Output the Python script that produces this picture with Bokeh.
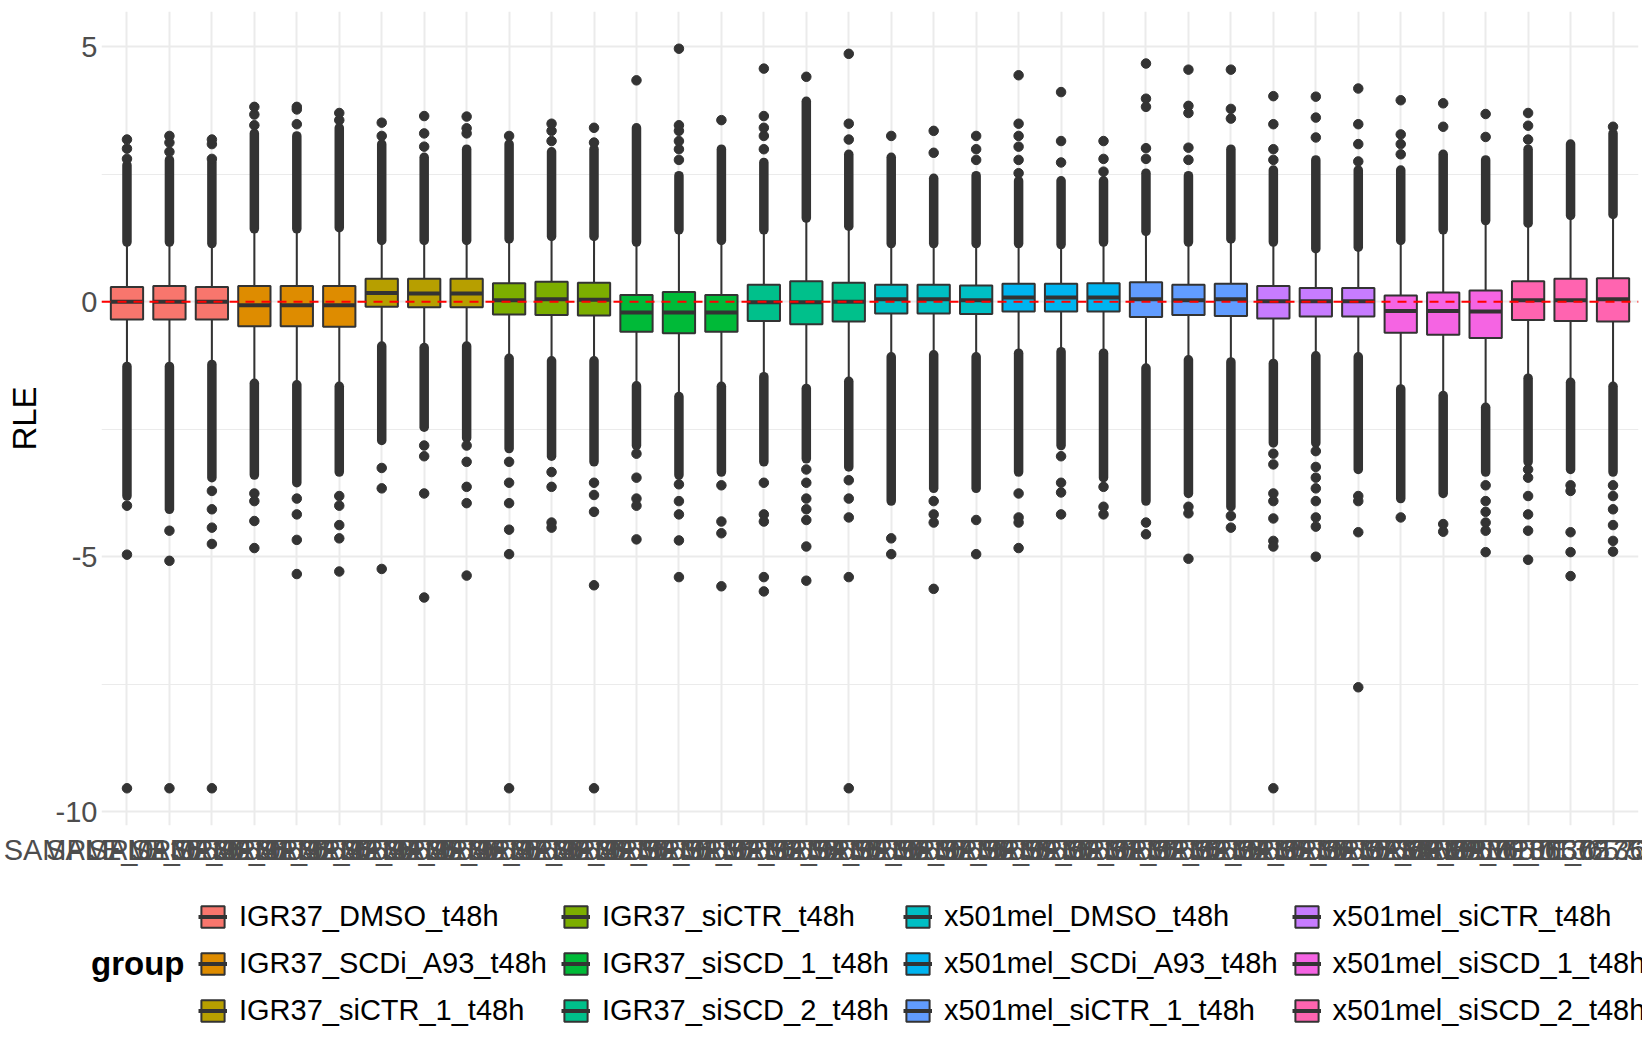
from bokeh.embed import file_html
from bokeh.models import (ColumnDataSource, FixedTicker, Label, Legend,
                          LegendItem, Range1d, Span)
from bokeh.plotting import figure
from bokeh.resources import INLINE
from bokeh.transform import dodge

FONT = "Liberation Sans"

# groups (legend order) and their ggplot hue colours
groups = [
    "IGR37_DMSO_t48h", "IGR37_SCDi_A93_t48h", "IGR37_siCTR_1_t48h",
    "IGR37_siCTR_t48h", "IGR37_siSCD_1_t48h", "IGR37_siSCD_2_t48h",
    "x501mel_DMSO_t48h", "x501mel_SCDi_A93_t48h", "x501mel_siCTR_1_t48h",
    "x501mel_siCTR_t48h", "x501mel_siSCD_1_t48h", "x501mel_siSCD_2_t48h",
]
group_colors = [
    "#F8766D", "#DE8C00", "#B79F00", "#7CAE00", "#00BA38", "#00C08B",
    "#00BFC4", "#00B4F0", "#619CFF", "#C77CFF", "#F564E3", "#FF64B0",
]

# sample names on the x axis (they overlap in the original)
samples = [
    "SAMPLE_0136540", "SAMPLE_0136541", "SAMPLE_0136542", "SAMPLE_0136543",
    "SAMPLE_0136544", "SAMPLE_0136545", "SAMPLE_0136546", "SAMPLE_0136547",
    "SAMPLE_0136548", "SAMPLE_0136549", "SAMPLE_0136550", "SAMPLE_0136551",
    "SAMPLE_0136552", "SAMPLE_0136553", "SAMPLE_0136554", "SAMPLE_0136555",
    "SAMPLE_0136556", "SAMPLE_0136557", "SAMPLE_0136558", "SAMPLE_0136559",
    "SAMPLE_0136560", "SAMPLE_0136561", "SAMPLE_0136562", "SAMPLE_0136563",
    "SAMPLE_0136564", "SAMPLE_0136565", "SAMPLE_0136566", "SAMPLE_0136567",
    "SAMPLE_0136568", "SAMPLE_0136569", "SAMPLE_0136570", "SAMPLE_0136571",
    "SAMPLE_0136572", "SAMPLE_0136573", "SAMPLE_0136574", "SAMPLE_0136575",
]
sample_group = [0, 0, 0, 1, 1, 1, 2, 2, 2, 3, 3, 3,
                4, 4, 4, 5, 5, 5, 6, 6, 6, 7, 7, 7,
                8, 8, 8, 9, 9, 9, 10, 10, 10, 11, 11, 11]

# box statistics per sample
q3 = [0.29, 0.31, 0.29, 0.31, 0.31, 0.31, 0.45, 0.45, 0.45, 0.36, 0.39, 0.37,
      0.13, 0.19, 0.13, 0.33, 0.40, 0.37, 0.33, 0.33, 0.32, 0.35, 0.35, 0.36,
      0.38, 0.33, 0.35, 0.31, 0.27, 0.27, 0.12, 0.18, 0.22, 0.40, 0.45, 0.46]
median = [0.0, 0.0, 0.0, -0.07, -0.07, -0.07, 0.17, 0.16, 0.16, 0.03, 0.05, 0.04,
          -0.21, -0.21, -0.21, -0.01, -0.01, 0.0, 0.05, 0.05, 0.03, 0.08, 0.08, 0.08,
          0.05, 0.03, 0.05, 0.01, 0.01, 0.01, -0.18, -0.18, -0.19, 0.03, 0.03, 0.05]
q1 = [-0.35, -0.35, -0.35, -0.48, -0.48, -0.49, -0.10, -0.11, -0.11, -0.25, -0.26, -0.27,
      -0.59, -0.62, -0.59, -0.38, -0.44, -0.39, -0.23, -0.23, -0.24, -0.19, -0.19, -0.19,
      -0.30, -0.26, -0.28, -0.33, -0.29, -0.29, -0.61, -0.65, -0.71, -0.36, -0.38, -0.39]
whisker_hi = [1.17, 1.17, 1.14, 1.43, 1.43, 1.45, 1.20, 1.20, 1.20, 1.23, 1.28, 1.28,
              1.17, 1.41, 1.20, 1.41, 1.64, 1.48, 1.14, 1.14, 1.14, 1.14, 1.12, 1.17,
              1.38, 1.17, 1.23, 1.17, 1.04, 1.07, 1.20, 1.41, 1.59, 1.54, 1.69, 1.71]
whisker_lo = [-1.27, -1.27, -1.23, -1.60, -1.63, -1.66, -0.87, -0.90, -0.87, -1.11, -1.16, -1.16,
              -1.65, -1.86, -1.66, -1.47, -1.70, -1.56, -1.08, -1.04, -1.08, -1.01, -0.98, -1.01,
              -1.30, -1.14, -1.18, -1.21, -1.06, -1.08, -1.71, -1.84, -2.07, -1.50, -1.58, -1.66]

# outliers are so dense right after the whiskers that they form a solid strip:
# strip runs from the whisker end to these values
dense_top = [2.68, 2.78, 2.73, 3.30, 3.25, 3.41, 3.09, 2.83, 2.99, 3.09, 2.94, 2.99,
             3.41, 2.47, 2.99, 2.73, 3.93, 2.89, 2.83, 2.42, 2.47, 2.37, 2.37, 2.37,
             2.52, 2.47, 2.99, 2.58, 2.78, 2.58, 2.58, 2.89, 2.78, 2.99, 3.09, 3.30]
dense_bottom = [-3.81, -4.07, -3.45, -3.40, -3.55, -3.34, -2.72, -2.46, -2.67, -2.88, -3.03, -3.14,
                -2.82, -3.40, -3.34, -3.14, -3.08, -3.24, -3.91, -3.66, -3.66, -3.34, -2.82, -3.45,
                -3.91, -3.76, -4.02, -2.77, -2.77, -3.29, -3.86, -3.76, -3.34, -3.14, -3.29, -3.34]

# the remaining single outliers
outliers = [
    [2.8, 3.0, 3.18, -4.0, -4.96, -9.54],
    [2.94, 3.12, 3.25, -4.49, -5.08, -9.54],
    [2.8, 3.09, 3.18, -3.71, -4.07, -4.43, -4.75, -9.54],
    [3.46, 3.67, 3.82, -3.76, -3.91, -4.3, -4.83],
    [3.48, 3.77, 3.82, -3.86, -4.17, -4.67, -5.34],
    [3.56, 3.7, -3.81, -4.0, -4.38, -4.64, -5.29],
    [3.25, 3.51, -3.26, -3.66, -5.24],
    [3.04, 3.3, 3.64, -2.82, -3.03, -3.76, -5.8],
    [3.3, 3.4, 3.63, -2.82, -3.14, -3.63, -3.95, -5.37],
    [3.25, -3.14, -3.55, -3.95, -4.47, -4.95, -9.54],
    [3.15, 3.35, 3.49, -3.34, -3.63, -4.33, -4.43],
    [3.12, 3.41, -3.55, -3.79, -4.12, -5.56, -9.54],
    [4.34, -2.98, -3.45, -3.86, -4.0, -4.66],
    [2.78, 2.99, 3.15, 3.35, 3.46, 4.96, -3.58, -3.91, -4.17, -4.68, -5.4],
    [3.56, -3.6, -4.31, -4.54, -5.58],
    [2.99, 3.25, 3.41, 3.64, 4.57, -3.55, -4.17, -4.31, -5.4, -5.68],
    [4.41, -3.29, -3.55, -3.86, -4.07, -4.28, -4.8, -5.47],
    [3.18, 3.49, 4.86, -3.5, -3.86, -4.23, -5.4, -9.54],
    [3.25, -4.64, -4.95],
    [2.92, 3.35, -3.91, -4.17, -4.33, -5.63],
    [2.78, 2.99, 3.25, -4.28, -4.95],
    [2.52, 2.78, 3.04, 3.25, 3.49, 4.44, -3.76, -4.23, -4.33, -4.83],
    [2.73, 3.15, 4.11, -3.03, -3.55, -3.74, -4.17],
    [2.55, 2.8, 3.15, -3.63, -4.02, -4.17],
    [2.8, 3.01, 3.82, 3.98, 4.67, -4.33, -4.56],
    [2.78, 3.02, 3.7, 3.84, 4.55, -4.02, -4.15, -5.04],
    [3.59, 3.78, 4.55, -4.2, -4.43],
    [2.78, 2.99, 3.48, 4.03, -2.98, -3.19, -3.76, -3.91, -4.25, -4.69, -4.8, -9.54],
    [3.22, 3.61, 4.02, -2.93, -3.24, -3.45, -3.66, -3.91, -4.23, -4.41, -5.0],
    [2.75, 3.09, 3.48, 4.18, -3.81, -3.91, -4.52, -7.56],
    [2.89, 3.09, 3.28, 3.95, -4.23],
    [3.43, 3.89, -4.36, -4.51],
    [3.23, 3.68, -3.6, -3.91, -4.12, -4.33, -4.49, -4.91],
    [3.18, 3.45, 3.7, -3.29, -3.45, -3.81, -4.17, -4.49, -5.06],
    [-3.6, -3.71, -4.52, -4.91, -5.38],
    [3.43, -3.6, -3.81, -4.07, -4.38, -4.69, -4.9],
]

y_ticks = [-10, -5, 0, 5]
y_minor_ticks = [-7.5, -2.5, 2.5]

# x positions of the samples on a numeric axis
xs = list(range(1, len(samples) + 1))

source = ColumnDataSource(dict(
    x=xs, q1=q1, median=median, q3=q3,
    w_lo=whisker_lo, w_hi=whisker_hi,
    d_top=dense_top, d_bot=dense_bottom,
    color=[group_colors[g] for g in sample_group],
))

out_x = [x for x, vals in zip(xs, outliers) for _ in vals]
out_y = [v for vals in outliers for v in vals]

BOX_LINE = dict(line_color="#333333", line_width=2)

p = figure(
    width=1642, height=880,
    x_range=Range1d(0.4, 36.6), y_range=Range1d(-10.27, 5.69),
    output_backend="svg", toolbar_location=None,
    min_border_left=101, min_border_right=4, min_border_top=11, min_border_bottom=55,
    background_fill_color="white", border_fill_color="white",
)
p.outline_line_color = None

# axes
p.xaxis.ticker = FixedTicker(ticks=xs)
p.xaxis.major_label_overrides = {x: s for x, s in zip(xs, samples)}
p.yaxis.ticker = FixedTicker(ticks=y_ticks, minor_ticks=y_minor_ticks)
p.yaxis.major_label_overrides = {t: str(t) for t in y_ticks}
for ax in (p.xaxis[0], p.yaxis[0]):
    ax.axis_line_color = None
    ax.major_tick_line_color = None
    ax.minor_tick_line_color = None
    ax.major_tick_out = 0
    ax.major_tick_in = 0
    ax.minor_tick_out = 0
    ax.major_label_text_font = FONT
    ax.major_label_text_font_size = "29px"
    ax.major_label_text_color = "#4D4D4D"
p.xaxis.major_label_standoff = 8
p.yaxis.major_label_standoff = 4
p.yaxis.axis_label = "RLE"
p.yaxis.axis_label_text_font = FONT
p.yaxis.axis_label_text_font_size = "33px"
p.yaxis.axis_label_text_font_style = "normal"
p.yaxis.axis_label_text_color = "black"
p.yaxis.axis_label_standoff = 10

# grid like theme_minimal
p.xgrid.grid_line_color = "#EBEBEB"
p.xgrid.grid_line_width = 2
p.ygrid.grid_line_color = "#EBEBEB"
p.ygrid.grid_line_width = 2
p.ygrid.minor_grid_line_color = "#EBEBEB"
p.ygrid.minor_grid_line_width = 1

# whiskers
p.segment("x", "q3", "x", "w_hi", source=source, **BOX_LINE)
p.segment("x", "q1", "x", "w_lo", source=source, **BOX_LINE)

# dense outlier strips and single outliers
p.segment("x", "w_hi", "x", "d_top", source=source, line_color="#333333",
          line_width=9.5, line_cap="round")
p.segment("x", "w_lo", "x", "d_bot", source=source, line_color="#333333",
          line_width=9.5, line_cap="round")
p.scatter(out_x, out_y, size=9.5, color="#333333")

# boxes and medians
p.vbar(x="x", width=0.76, bottom="q1", top="q3", source=source,
       fill_color="color", **BOX_LINE)
p.segment(x0=dodge("x", -0.38), y0="median", x1=dodge("x", 0.38), y1="median",
          source=source, line_color="#333333", line_width=4)

# red dashed zero line
p.add_layout(Span(location=0, dimension="width", line_color="#FF0000",
                  line_dash="9 7", line_width=2))

# legend lives in its own root below the panel; it is a separate root (not a
# column) so that its frame covers the whole strip and nothing gets clipped
leg = figure(
    width=1642, height=162, x_range=Range1d(0, 1), y_range=Range1d(0, 1),
    x_axis_location=None, y_axis_location=None,
    output_backend="svg", toolbar_location=None,
    min_border_left=0, min_border_right=0, min_border_top=0, min_border_bottom=0,
    background_fill_color="white", border_fill_color="white",
)
leg.outline_line_color = None
leg.grid.visible = False

# hidden copies of the box glyphs, only used to draw the legend keys
leg_box = leg.vbar(x="x", width=0.76, bottom="q1", top="q3", source=source,
                   fill_color="color", visible=False, **BOX_LINE)
leg_med = leg.segment(x0="x", y0="median", x1="x", y1="median", source=source,
                      line_color="#333333", line_width=4, visible=False)

items = [
    LegendItem(label=g, renderers=[leg_box, leg_med], index=sample_group.index(i))
    for i, g in enumerate(groups)
]
legend = Legend(
    items=items, orientation="vertical", nrows=3, location=(198, 15),
    label_text_font=FONT, label_text_font_size="29px", label_text_color="black",
    glyph_width=29, glyph_height=27, label_standoff=12, spacing=14,
    padding=0, margin=0, border_line_color=None, background_fill_alpha=0,
)
leg.add_layout(legend, "center")

leg.add_layout(Label(
    x=184, y=79, x_units="screen", y_units="screen", text="group",
    text_font=FONT, text_font_style="bold", text_font_size="33px",
    text_align="right", text_baseline="middle", text_color="black",
))

open("out.html", "w").write(file_html([p, leg], INLINE))
